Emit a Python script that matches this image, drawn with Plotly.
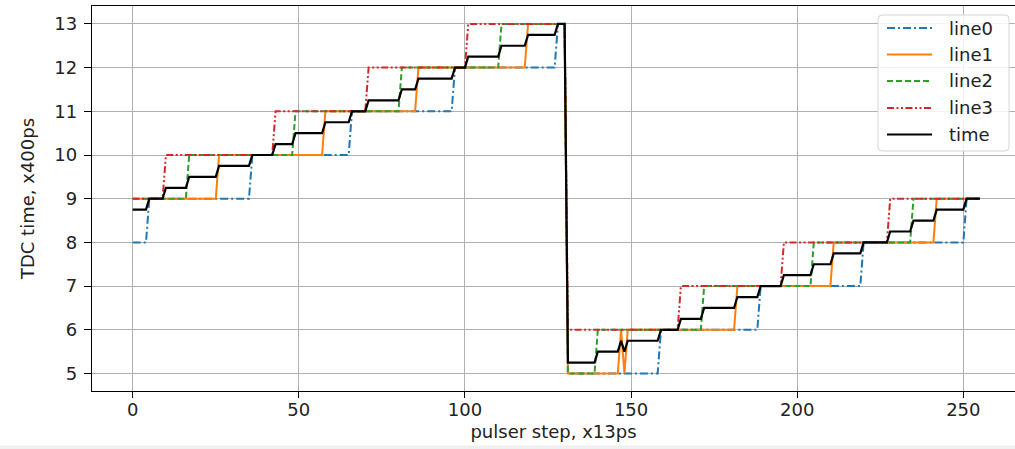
import plotly.graph_objects as go

# ---- data ----
steps = list(range(0, 256))  # pulser step, x13ps

# each line: starting TDC value and (step, new value) change points
line0_start = 8
line0_changes = [(5, 9), (36, 10), (66, 11), (97, 12), (128, 13), (131, 5),
                 (159, 6), (189, 7), (220, 8), (251, 9)]
line1_start = 9
line1_changes = [(26, 10), (58, 11), (86, 12), (119, 13), (131, 5),
                 (147, 6), (148, 5), (149, 6), (182, 7), (211, 8), (242, 9)]
line2_start = 9
line2_changes = [(17, 10), (49, 11), (81, 12), (111, 13), (131, 5),
                 (140, 6), (172, 7), (205, 8), (235, 9)]
line3_start = 9
line3_changes = [(10, 10), (43, 11), (71, 12), (101, 13), (131, 6),
                 (165, 7), (196, 8), (228, 9)]

x_ticks = [0, 50, 100, 150, 200, 250]
y_ticks = [5, 6, 7, 8, 9, 10, 11, 12, 13]
series_names = ["line0", "line1", "line2", "line3", "time"]


def expand(start, changes):
    vals = []
    cur = start
    ch = dict(changes)
    for s in steps:
        if s in ch:
            cur = ch[s]
        vals.append(cur)
    return vals


line0 = expand(line0_start, line0_changes)
line1 = expand(line1_start, line1_changes)
line2 = expand(line2_start, line2_changes)
line3 = expand(line3_start, line3_changes)
time_vals = [(a + b + c + d) / 4 for a, b, c, d in zip(line0, line1, line2, line3)]

FONT = "DejaVu Sans"
FS = 18
W, H = 1015, 449
ML, MR, MT, MB = 92, 0, 6, 58
PW, PH = W - ML - MR, H - MT - MB

styles = [
    dict(color="#1f77b4", width=2, dash="8px,3px,2px,3px"),
    dict(color="#ff7f0e", width=2),
    dict(color="#2ca02c", width=2, dash="6px,3px"),
    dict(color="#d62728", width=2, dash="7px,2.5px,2px,2.5px,2px,2.5px"),
    dict(color="black", width=2.2),
]
series = [line0, line1, line2, line3, time_vals]

fig = go.Figure()
for name, ys, st in zip(series_names, series, styles):
    fig.add_trace(go.Scatter(x=steps, y=ys, mode="lines", name=name, line=st,
                             showlegend=False))


def px_x(p):
    return (p - ML) / PW


def px_y(p):
    return (H - MB - p) / PH


# legend drawn as box + samples + text (matplotlib style)
shapes = []
annotations = []
bx0, bx1, by0, by1, r = 878, 1009, 15, 151, 4
path = (f"M{px_x(bx0 + r)},{px_y(by0)} L{px_x(bx1 - r)},{px_y(by0)} "
        f"Q{px_x(bx1)},{px_y(by0)} {px_x(bx1)},{px_y(by0 + r)} "
        f"L{px_x(bx1)},{px_y(by1 - r)} Q{px_x(bx1)},{px_y(by1)} {px_x(bx1 - r)},{px_y(by1)} "
        f"L{px_x(bx0 + r)},{px_y(by1)} Q{px_x(bx0)},{px_y(by1)} {px_x(bx0)},{px_y(by1 - r)} "
        f"L{px_x(bx0)},{px_y(by0 + r)} Q{px_x(bx0)},{px_y(by0)} {px_x(bx0 + r)},{px_y(by0)} Z")
shapes.append(dict(type="path", xref="paper", yref="paper", path=path,
                   fillcolor="rgba(255,255,255,0.85)", line=dict(color="#d6d6d6", width=1)))
entry_y = [28, 54.5, 81, 108, 134.5]
for name, st, ey in zip(series_names, styles, entry_y):
    shapes.append(dict(type="line", xref="paper", yref="paper",
                       x0=px_x(887), x1=px_x(932), y0=px_y(ey), y1=px_y(ey),
                       line=dict(color=st["color"], width=st["width"],
                                 dash=st.get("dash", "solid"))))
    annotations.append(dict(xref="paper", yref="paper", x=px_x(947), y=px_y(ey),
                            xanchor="left", yanchor="middle", text=name, showarrow=False,
                            font=dict(family=FONT, size=FS, color="#222222")))

shapes.append(dict(type="rect", xref="paper", yref="paper",
                   x0=px_x(0), x1=1.0, y0=px_y(449), y1=px_y(445.5),
                   fillcolor="#f0f0f0", line=dict(width=0), layer="below"))

fig.update_layout(
    width=W, height=H,
    margin=dict(l=ML, r=MR, t=MT, b=MB, autoexpand=False),
    paper_bgcolor="white", plot_bgcolor="white",
    font=dict(family=FONT, size=FS, color="#222222"),
    showlegend=False,
    xaxis=dict(range=[-12.25, 265.56], tickvals=x_ticks, ticks="outside", ticklen=6,
               tickwidth=1.2, tickcolor="black", showline=True, linecolor="black",
               linewidth=1.3, mirror=True, showgrid=True, gridcolor="#b0b0b0",
               gridwidth=1.2, zeroline=False, automargin=False, ticklabelstandoff=-4,
               title=dict(text="pulser step, x13ps", standoff=6,
                          font=dict(family=FONT, size=FS))),
    yaxis=dict(range=[4.6, 13.41], tickvals=y_ticks, ticks="outside", ticklen=7,
               tickwidth=1.2, tickcolor="black", showline=True, linecolor="black",
               linewidth=1.3, mirror=False, showgrid=True, gridcolor="#b0b0b0",
               gridwidth=1.2, zeroline=False, automargin=False, ticklabelstandoff=3,
               title=dict(text="TDC time, x400ps",
                          font=dict(family=FONT, size=FS))),
    shapes=shapes,
    annotations=annotations,
)

fig.write_html("out.html", config={"displayModeBar": False},
               post_script="document.body.style.margin='0';document.body.style.overflow='hidden';")
